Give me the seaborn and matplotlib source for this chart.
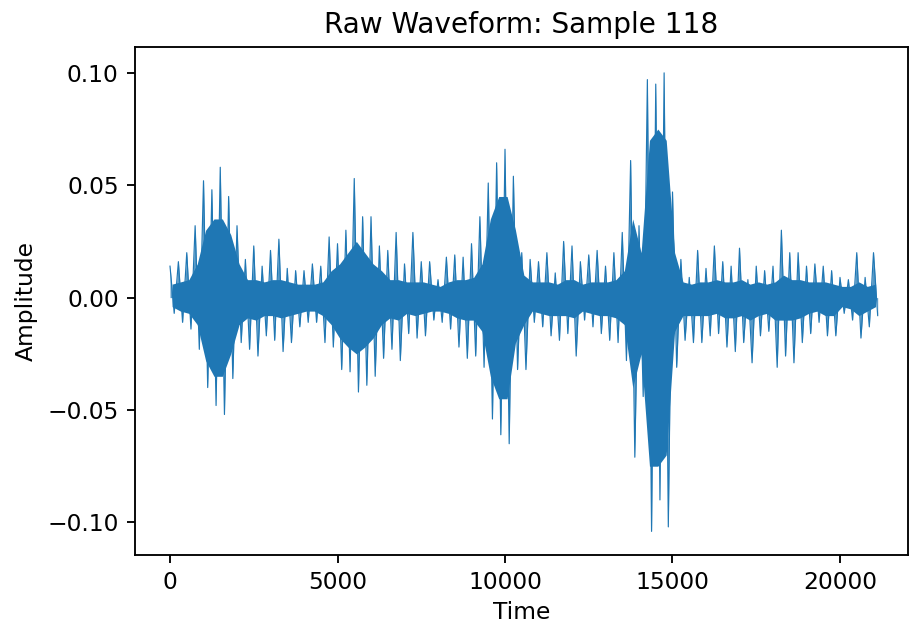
import numpy as np
import pandas as pd
import matplotlib
matplotlib.use("Agg")
import matplotlib.pyplot as plt
import seaborn as sns

# Envelope of the raw waveform: per block of 250 samples,
# the highest and lowest amplitude reached (spike tips) ...
block_size = 250
upper = [0.014, 0.016, 0.020, 0.032, 0.052, 0.048, 0.058, 0.045, 0.032, 0.017,
         0.023, 0.014, 0.021, 0.026, 0.013, 0.012, 0.012, 0.015, 0.014, 0.027,
         0.024, 0.030, 0.053, 0.036, 0.036, 0.023, 0.021, 0.029, 0.015, 0.029,
         0.016, 0.016, 0.008, 0.018, 0.019, 0.018, 0.024, 0.036, 0.051, 0.060,
         0.066, 0.054, 0.020, 0.017, 0.016, 0.020, 0.011, 0.025, 0.023, 0.016,
         0.019, 0.021, 0.014, 0.020, 0.029, 0.061, 0.032, 0.097, 0.095, 0.100,
         0.047, 0.017, 0.009, 0.021, 0.013, 0.023, 0.016, 0.014, 0.022, 0.008,
         0.014, 0.012, 0.014, 0.030, 0.020, 0.020, 0.014, 0.015, 0.014, 0.012,
         0.009, 0.008, 0.020, 0.009, 0.020]
lower = [-0.007, -0.011, -0.014, -0.023, -0.040, -0.048, -0.052, -0.036, -0.020, -0.023,
         -0.026, -0.017, -0.019, -0.024, -0.020, -0.013, -0.011, -0.011, -0.020, -0.022,
         -0.032, -0.033, -0.042, -0.039, -0.035, -0.027, -0.023, -0.028, -0.016, -0.018,
         -0.017, -0.010, -0.011, -0.014, -0.022, -0.027, -0.026, -0.031, -0.054, -0.061,
         -0.065, -0.032, -0.032, -0.011, -0.013, -0.017, -0.019, -0.016, -0.026, -0.010,
         -0.013, -0.016, -0.019, -0.020, -0.028, -0.071, -0.044, -0.104, -0.090, -0.102,
         -0.031, -0.019, -0.020, -0.020, -0.017, -0.016, -0.022, -0.024, -0.020, -0.029,
         -0.017, -0.015, -0.031, -0.026, -0.029, -0.020, -0.016, -0.011, -0.017, -0.017,
         -0.007, -0.010, -0.018, -0.013, -0.008]
# ... and the extent of the solid (dense) core of the trace in each block
core_upper = [0.006, 0.007, 0.008, 0.015, 0.030, 0.035, 0.035, 0.028, 0.015, 0.008,
              0.008, 0.007, 0.008, 0.008, 0.007, 0.006, 0.006, 0.006, 0.007, 0.012,
              0.015, 0.020, 0.025, 0.020, 0.015, 0.012, 0.008, 0.008, 0.007, 0.007,
              0.007, 0.006, 0.005, 0.007, 0.008, 0.008, 0.009, 0.015, 0.035, 0.045,
              0.045, 0.030, 0.010, 0.007, 0.007, 0.007, 0.006, 0.008, 0.008, 0.006,
              0.007, 0.007, 0.007, 0.008, 0.012, 0.035, 0.020, 0.070, 0.075, 0.070,
              0.020, 0.007, 0.006, 0.007, 0.007, 0.008, 0.007, 0.007, 0.008, 0.006,
              0.007, 0.006, 0.007, 0.010, 0.008, 0.008, 0.007, 0.007, 0.007, 0.006,
              0.005, 0.005, 0.007, 0.005, 0.006]
core_lower = [-0.004, -0.006, -0.007, -0.012, -0.028, -0.035, -0.035, -0.025, -0.012, -0.009,
              -0.010, -0.008, -0.008, -0.009, -0.008, -0.007, -0.006, -0.006, -0.008, -0.012,
              -0.018, -0.022, -0.025, -0.022, -0.018, -0.012, -0.009, -0.010, -0.007, -0.008,
              -0.007, -0.006, -0.006, -0.007, -0.009, -0.010, -0.010, -0.015, -0.035, -0.045,
              -0.045, -0.020, -0.012, -0.006, -0.007, -0.008, -0.008, -0.008, -0.009, -0.006,
              -0.007, -0.008, -0.008, -0.009, -0.012, -0.040, -0.025, -0.075, -0.075, -0.070,
              -0.015, -0.008, -0.008, -0.008, -0.008, -0.007, -0.009, -0.009, -0.008, -0.010,
              -0.008, -0.007, -0.010, -0.010, -0.010, -0.009, -0.007, -0.006, -0.008, -0.008,
              -0.004, -0.005, -0.008, -0.006, -0.004]

title = "Raw Waveform: Sample 118"
x_label = "Time"
y_label = "Amplitude"
color = "#1f77b4"

# Min/max decimated trace: high then low within each block
amp = np.empty(2 * len(upper))
amp[0::2] = upper
amp[1::2] = lower
time = np.arange(len(amp)) * (block_size / 2)
df = pd.DataFrame({"Time": time, "Amplitude": amp})
block_time = np.arange(len(upper)) * block_size + block_size / 4

dpi = 168
fig = plt.figure(figsize=(912 / dpi, 624 / dpi), dpi=dpi)
ax = fig.add_axes([135 / 912, 1 - 555 / 624, (908 - 135) / 912, (555 - 47) / 624])
ax.fill_between(block_time, core_lower, core_upper, color=color, linewidth=0)
ax.fill_between(time, amp, 0, color=color, alpha=0.75, linewidth=0)
sns.lineplot(data=df, x="Time", y="Amplitude", ax=ax, color=color,
             linewidth=0.5, estimator=None, sort=False)
ax.set_xlim(-1045, 22030)
ax.set_ylim(-0.1145, 0.1115)
ax.set_title(title, fontsize=12)
ax.set_xlabel(x_label, labelpad=3)
ax.set_ylabel(y_label)
fig.savefig("out.png", dpi=dpi)
